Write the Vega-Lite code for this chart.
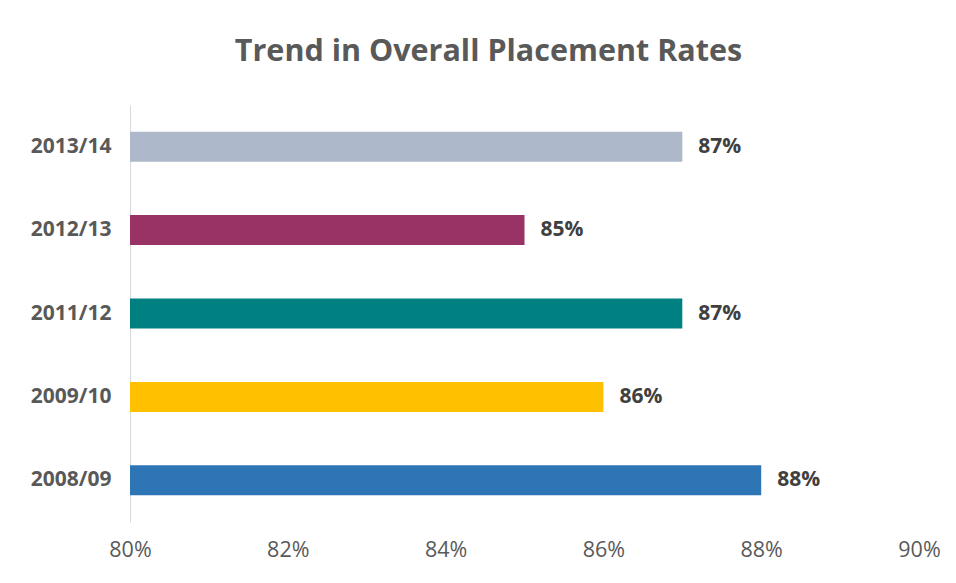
{
  "$schema": "https://vega.github.io/schema/vega-lite/v6.json",
  "width": 789,
  "height": 417,
  "autosize": {"type": "none"},
  "padding": {"left": 130, "top": 105, "right": 37, "bottom": 61},
  "background": "white",
  "title": {
    "text": "Trend in Overall Placement Rates",
    "font": "Open Sans",
    "fontSize": 30.5,
    "fontWeight": "bold",
    "color": "#595959",
    "anchor": "middle",
    "dx": -36,
    "offset": 38
  },
  "data": {
    "values": [
      {"year": "2013/14", "rate": 0.87},
      {"year": "2012/13", "rate": 0.85},
      {"year": "2011/12", "rate": 0.87},
      {"year": "2009/10", "rate": 0.86},
      {"year": "2008/09", "rate": 0.88}
    ]
  },
  "encoding": {
    "y": {
      "field": "year",
      "type": "nominal",
      "sort": null,
      "title": null,
      "scale": {"paddingInner": 0.64, "paddingOuter": 0.32},
      "axis": {
        "domainColor": "#d9d9d9",
        "domainWidth": 1,
        "ticks": false,
        "labelFont": "Open Sans",
        "labelFontSize": 21,
        "labelFontWeight": "bold",
        "labelColor": "#595959",
        "labelPadding": 19
      }
    },
    "x": {
      "field": "rate",
      "type": "quantitative",
      "title": null,
      "scale": {"domain": [0.8, 0.9], "zero": false},
      "axis": {
        "format": ".0%",
        "values": [0.8, 0.82, 0.84, 0.86, 0.88, 0.9],
        "domain": false,
        "ticks": false,
        "grid": false,
        "labelFlush": false,
        "labelFont": "Open Sans",
        "labelFontSize": 21.5,
        "labelColor": "#595959",
        "labelPadding": 17
      }
    }
  },
  "layer": [
    {
      "mark": {"type": "bar", "clip": true},
      "encoding": {
        "x2": {"datum": 0.8},
        "color": {
          "field": "year",
          "type": "nominal",
          "legend": null,
          "scale": {
            "domain": ["2013/14", "2012/13", "2011/12", "2009/10", "2008/09"],
            "range": ["#ADB9CA", "#993366", "#008080", "#FFC000", "#2E75B6"]
          }
        }
      }
    },
    {
      "mark": {
        "type": "text",
        "align": "left",
        "dx": 16,
        "font": "Open Sans",
        "fontSize": 21,
        "fontWeight": "bold",
        "color": "#404040"
      },
      "encoding": {
        "text": {"field": "rate", "type": "quantitative", "format": ".0%"}
      }
    }
  ],
  "config": {"view": {"stroke": null}}
}
